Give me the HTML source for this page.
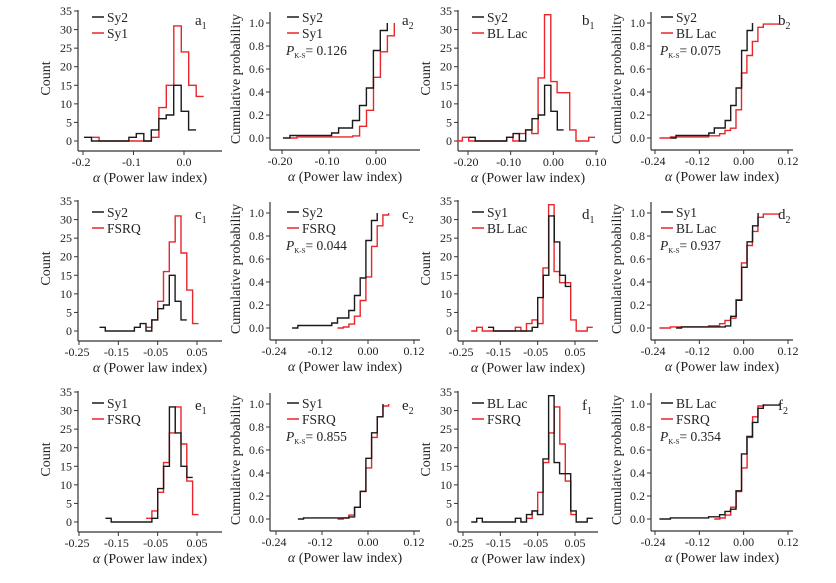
<!DOCTYPE html>
<html><head><meta charset="utf-8"><style>
html,body{margin:0;padding:0;background:#fff;}
svg{display:block;font-family:"Liberation Serif",serif;}
svg text{font-family:"Liberation Serif",serif;}
</style></head><body>
<svg id="fig" width="836" height="583" viewBox="0 0 836 583" xmlns="http://www.w3.org/2000/svg"></svg>
<script>
// ---- data (alpha histograms, common bin grid) ----
const binWidth = 0.0148;
const sy2Start = -0.198;
const sy2Counts = [1,0,0,0,0,0,1,2,0,3,6,7,15,8,3];
const sy1Start = -0.183;
const sy1Counts = [1,0,0,0,0,0,0,0,1,9,15,31,24,15,12];
const bllStart = -0.228;
const bllCounts = [0,1,0,0,0,0,0,0,1,0,2,3,2,17,34,16,13,13,3,0,0,1];
const fsrqStart = -0.0795;
const fsrqCounts = [1,3,8,16,24,31,21,11,2];
const panelLetters = ["a","b","c","d","e","f"];
const panelBlack = ["Sy2","Sy2","Sy2","Sy1","Sy1","BL Lac"];
const panelRed = ["Sy1","BL Lac","FSRQ","BL Lac","FSRQ","FSRQ"];
const ksP = ["0.126","0.075","0.044","0.937","0.855","0.354"];
const histYTicks = [0,5,10,15,20,25,30,35];
const cdfYTicks = [0,0.2,0.4,0.6,0.8,1.0];
const histXTicksA = [-0.2,-0.1,0.0];
const histXLabelsA = ["-0.2","-0.1","0.0"];
const histXTicksB = [-0.2,-0.1,0.0,0.1];
const histXLabelsB = ["-0.20","-0.10","0.00","0.10"];
const histXTicksC = [-0.25,-0.15,-0.05,0.05];
const histXLabelsC = ["-0.25","-0.15","-0.05","0.05"];
const cdfXTicksA = [-0.2,-0.1,0.0];
const cdfXLabelsA = ["-0.20","-0.10","0.00"];
const cdfXTicksB = [-0.24,-0.12,0.0,0.12];
const cdfXLabelsB = ["-0.24","-0.12","0.00","0.12"];

const classes = {"Sy2":[sy2Start,sy2Counts],"Sy1":[sy1Start,sy1Counts],"BL Lac":[bllStart,bllCounts],"FSRQ":[fsrqStart,fsrqCounts]};

const NS="http://www.w3.org/2000/svg";
const svg=document.getElementById('fig');
function el(tag,attrs,parent,text){const e=document.createElementNS(NS,tag);for(const k in attrs)e.setAttribute(k,attrs[k]);if(text!==undefined)e.textContent=text;(parent||svg).appendChild(e);return e;}

const RED="#e8262c", BLACK="#1a1a1a", AX="#333";
const rowOff=[0,190,381];

function panel(idx, kind){
  const row=Math.floor(idx/2), colPair=idx%2;
  const dy=rowOff[row];
  const col=colPair*2+(kind==='cdf'?1:0);
  let ax, x0v,x0p,x1v,x1p,ticks,labels,xEnd;
  if(col===0){ax=78;xEnd=222;
    if(row===0){x0v=-0.2;x0p=83;x1v=0;x1p=184;ticks=histXTicksA;labels=histXLabelsA;}
    else{x0v=-0.25;x0p=79;x1v=0.05;x1p=197;ticks=histXTicksC;labels=histXLabelsC;}}
  else if(col===1){ax=270;xEnd=420;
    if(row===0){x0v=-0.2;x0p=282;x1v=0;x1p=376;ticks=cdfXTicksA;labels=cdfXLabelsA;}
    else{x0v=-0.24;x0p=276;x1v=0.12;x1p=414;ticks=cdfXTicksB;labels=cdfXLabelsB;}}
  else if(col===2){ax=458;xEnd=598;
    if(row===0){x0v=-0.2;x0p=468;x1v=0.1;x1p=596;ticks=histXTicksB;labels=histXLabelsB;}
    else{x0v=-0.25;x0p=463;x1v=0.05;x1p=575;ticks=histXTicksC;labels=histXLabelsC;}}
  else {ax=651;xEnd=793;x0v=-0.24;x0p=655;x1v=0.12;x1p=788;ticks=cdfXTicksB;labels=cdfXLabelsB;}
  const X=v=>x0p+(v-x0v)*(x1p-x0p)/(x1v-x0v);
  let Y, yTicks, yFmt, yTop=10+dy, yBot=151+dy;
  if(kind==='hist'){Y=v=>141+dy-v*130/35;yTicks=histYTicks;yFmt=v=>String(v);}
  else{Y=v=>138+dy-v*115;yTicks=cdfYTicks;yFmt=v=>v.toFixed(1);yTop=12+dy;yBot=150+dy;}
  const id=panelLetters[idx]+(kind==='hist'?'1':'2');
  const g=el('g',{});  
  const yl=el('line',{x1:ax,y1:yTop,x2:ax,y2:yBot,stroke:AX,'stroke-width':1.2},g);
   
  const xl=el('line',{x1:ax,y1:yBot,x2:xEnd,y2:yBot,stroke:AX,'stroke-width':1.2},g);
   
  yTicks.forEach(v=>{const y=Y(v);el('line',{x1:ax-4,y1:y,x2:ax,y2:y,stroke:AX,'stroke-width':1},g);
    const t=el('text',{x:ax-6,y:y+4,'text-anchor':'end','font-size':12,fill:'#222'},g,yFmt(v));
     });
  ticks.forEach((v,i)=>{const x=X(v);el('line',{x1:x,y1:yBot,x2:x,y2:yBot+4,stroke:AX,'stroke-width':1},g);
    const t=el('text',{x:x-(labels[i][0]==='-'?2:0),y:yBot+15,'text-anchor':'middle','font-size':12,fill:'#222'},g,labels[i]);
     });
  const xt=el('text',{x:(ax+xEnd)/2,y:yBot+31,'text-anchor':'middle','font-size':14,fill:'#222'},g);
   
  el('tspan',{'font-style':'italic'},xt,'α'); el('tspan',{},xt,' (Power law index)');
  const ytx=kind==='hist'?ax-28:ax-30, ytyc=(yTop+yBot)/2-2;
  const yt=el('text',{x:ytx,y:ytyc,'text-anchor':'middle','font-size':14,fill:'#222',transform:`rotate(-90 ${ytx} ${ytyc})`},g,kind==='hist'?'Count':'Cumulative probability');
   
  const names=[panelRed[idx],panelBlack[idx]], colors=[RED,BLACK];
  names.forEach((nm,si)=>{
    const [st,cnt]=classes[nm]; let d='';
    if(kind==='hist'){
      cnt.forEach((c,i)=>{const a=st+i*binWidth,b=st+(i+1)*binWidth;
        d+=(i===0?'M':'L')+X(a).toFixed(1)+' '+Y(c).toFixed(1)+' L'+X(b).toFixed(1)+' '+Y(c).toFixed(1)+' ';});
    } else {
      const tot=cnt.reduce((s,c)=>s+c,0); let cum=0; let prev=0;
      d='M'+X(st).toFixed(1)+' '+Y(0).toFixed(1)+' ';
      cnt.forEach((c,i)=>{cum+=c;const b=st+(i+1)*binWidth;const v=cum/tot;
        d+='L'+X(b).toFixed(1)+' '+Y(prev).toFixed(1)+' L'+X(b).toFixed(1)+' '+Y(v).toFixed(1)+' ';prev=v;});
    }
    const p=el('path',{d:d,fill:'none',stroke:colors[si],'stroke-width':1.4},g);
    
    
  });
  const lx=ax+(col===3?10:(col===1?17:14)), ly=dy+(row===0?17:22);
  [[panelBlack[idx],BLACK],[panelRed[idx],RED]].forEach(([nm,c],i)=>{
    const y=ly+i*16;
    const lg=el('g',{},g);  
    el('line',{x1:lx,y1:y,x2:lx+12,y2:y,stroke:c,'stroke-width':1.5},lg);
    el('text',{x:lx+15,y:y+5,'font-size':13.5,fill:'#222'},lg,nm);
  });
  if(kind==='cdf'){
    const pt=el('text',{x:lx-1,y:ly+38,'font-size':13.5,fill:'#222'},g);
     
    el('tspan',{'font-style':'italic'},pt,'P');
    el('tspan',{'font-size':7,dy:3},pt,'K-S');
    el('tspan',{dy:-3},pt,'= '+ksP[idx]);
  }
  const plx=col===0?195:col===1?402:col===2?582:778, ply=dy+(row===0?25:29);
  const pl=el('text',{x:plx,y:ply,'font-size':15,fill:'#222'},g);
   
  el('tspan',{},pl,panelLetters[idx]); el('tspan',{'font-size':10,dy:4},pl,kind==='hist'?'1':'2');
}
for(let i=0;i<6;i++){panel(i,'hist');panel(i,'cdf');}
</script>
</body></html>
